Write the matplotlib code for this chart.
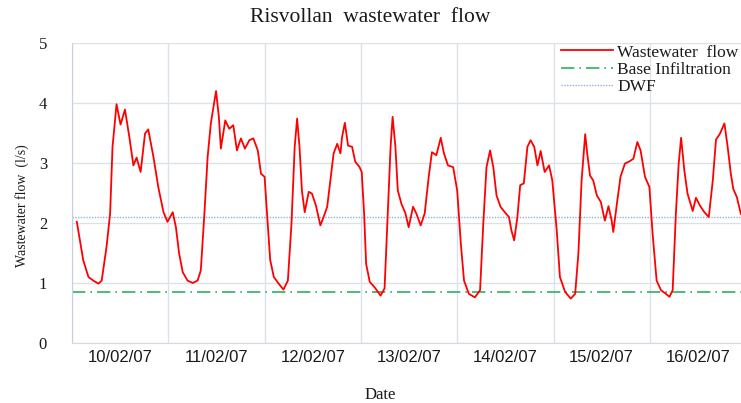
import matplotlib
matplotlib.use("Agg")
import matplotlib.pyplot as plt
from matplotlib.ticker import FixedLocator, NullFormatter, FixedFormatter

# ---- data (hours since 10/02/07 00:00, flow in l/s) ----
hours = [1.2, 2.8, 4.1, 5.3, 6.6, 7.4, 8.6, 9.5, 10.1, 11.1, 12.1, 13.2, 14.3, 15.3, 16.1, 17.1,
         18.2, 19.0, 20.3, 21.5, 22.8, 23.8,
         25.1, 25.9, 26.7, 27.6, 28.8, 30.1, 31.3, 32.1, 33.0, 33.8, 34.6, 35.9, 36.6, 37.1,
         38.2, 39.2, 40.2, 41.1, 42.1, 43.1, 44.2, 45.2, 46.3, 47.1, 48.0,
         48.6, 49.4, 50.3, 51.5, 52.7, 53.8, 54.7, 55.5, 56.1, 56.7, 57.3, 58.0, 59.0, 59.8,
         60.8, 61.9, 62.7, 63.6, 64.4, 65.2, 66.1, 66.9, 67.3, 68.0, 68.8, 69.8, 70.6, 71.6,
         72.2, 72.8, 73.3, 74.2, 75.4, 76.9, 77.9, 78.7, 79.4, 79.9, 80.6, 81.2, 82.1, 83.1,
         83.9, 85.0, 85.8, 86.9, 87.9, 88.9, 89.7, 90.8, 91.9, 92.7, 93.7, 95.0,
         96.0, 96.9, 97.7, 98.9, 100.4, 101.7, 102.5, 103.3, 104.2, 105.0, 105.8, 106.8,
         108.1, 108.9, 109.5, 110.2, 111.0, 111.7, 112.6, 113.5, 114.3, 115.2, 116.0, 116.8,
         117.8, 118.9, 119.7,
         120.8, 121.6, 122.9, 124.3, 125.4, 126.2, 127.0, 127.9, 128.4, 129.1, 129.9, 130.8,
         131.8, 132.8, 133.7, 134.5, 134.9, 135.7, 136.7, 137.8, 139.0, 139.9, 140.9, 141.7,
         142.8, 143.9,
         144.7, 145.7, 146.8, 148.0, 148.9, 149.7, 150.5, 151.2, 151.8, 152.6, 153.4, 154.7,
         155.5, 156.5, 157.6, 158.7, 159.7, 160.5, 161.5, 162.6, 163.4, 164.2, 164.8, 165.7,
         166.7]
flow = [2.02, 1.38, 1.10, 1.04, 0.99, 1.04, 1.60, 2.16, 3.27, 3.98, 3.64, 3.89, 3.43, 2.96, 3.09, 2.85,
        3.49, 3.56, 3.10, 2.60, 2.18, 2.02,
        2.18, 1.93, 1.49, 1.18, 1.04, 1.00, 1.04, 1.21, 2.16, 3.10, 3.66, 4.20, 3.77, 3.24,
        3.71, 3.57, 3.63, 3.21, 3.41, 3.24, 3.38, 3.41, 3.21, 2.82, 2.77,
        2.16, 1.38, 1.10, 0.99, 0.89, 1.04, 1.99, 3.27, 3.74, 3.27, 2.54, 2.18, 2.52, 2.49,
        2.29, 1.96, 2.10, 2.27, 2.71, 3.16, 3.32, 3.16, 3.43, 3.67, 3.29, 3.27, 3.02, 2.94,
        2.85, 2.16, 1.32, 1.02, 0.93, 0.79, 0.91, 2.16, 3.27, 3.77, 3.27, 2.54, 2.32, 2.16,
        1.93, 2.27, 2.16, 1.96, 2.16, 2.77, 3.18, 3.13, 3.42, 3.16, 2.96, 2.93,
        2.54, 1.66, 1.04, 0.82, 0.76, 0.88, 1.99, 2.93, 3.21, 2.93, 2.46, 2.27,
        2.16, 2.10, 1.88, 1.71, 2.10, 2.63, 2.66, 3.27, 3.38, 3.27, 2.96, 3.20,
        2.85, 2.96, 2.71,
        1.88, 1.10, 0.85, 0.74, 0.82, 1.49, 2.71, 3.48, 3.16, 2.79, 2.71, 2.46,
        2.35, 2.04, 2.28, 2.04, 1.85, 2.27, 2.77, 2.99, 3.03, 3.07, 3.35, 3.21,
        2.77, 2.60,
        1.82, 1.04, 0.88, 0.82, 0.77, 0.88, 2.16, 2.99, 3.42, 2.88, 2.49, 2.20,
        2.42, 2.29, 2.18, 2.10, 2.71, 3.39, 3.49, 3.66, 3.27, 2.82, 2.57, 2.43,
        2.15]
base_infiltration = 0.855
dwf = 2.10
day_labels = ["10/02/07", "11/02/07", "12/02/07", "13/02/07", "14/02/07", "15/02/07", "16/02/07"]
y_ticks = [0, 1, 2, 3, 4, 5]

serif = ["Liberation Serif", "DejaVu Serif"]
sans = ["Liberation Sans", "DejaVu Sans"]

fig = plt.figure(figsize=(7.41, 4.03), dpi=100)
ax = fig.add_axes([72 / 741, 1 - 343 / 403, 1 - 72 / 741, 300 / 403])

xmax = 24 * (741 - 72) / 96.3
ax.set_xlim(0, xmax)
ax.set_ylim(0, 5)

ax.plot(hours, flow, color="#ff0000", lw=1.3, label="Wastewater  flow", zorder=3)
ax.plot([0, xmax], [base_infiltration] * 2, color="#2fb060", lw=1.2,
        linestyle=(0, (8, 3, 1, 3)), label="Base Infiltration", zorder=2)
ax.plot([0, xmax], [dwf] * 2, color="#8fb4dc", lw=1.0, linestyle=(0, (1, 1)),
        label="DWF", zorder=2)

day_edges = [24 * i for i in range(len(day_labels))]
day_centers = [24 * i + 12 for i in range(len(day_labels))]
ax.xaxis.set_major_locator(FixedLocator(day_edges))
ax.xaxis.set_major_formatter(NullFormatter())
ax.xaxis.set_minor_locator(FixedLocator(day_centers))
ax.xaxis.set_minor_formatter(FixedFormatter(day_labels))
ax.tick_params(axis="x", which="both", length=0, pad=5)
for lab in ax.xaxis.get_minorticklabels():
    lab.set_family(sans)
    lab.set_fontsize(12)
    lab.set_color("#1a1a1a")

ax.set_yticks(y_ticks)
ax.tick_params(axis="y", length=0, pad=18)
for lab in ax.get_yticklabels():
    lab.set_family(serif)
    lab.set_fontsize(12)
    lab.set_color("#1a1a1a")

ax.grid(True, which="major", color="#dde2ea", lw=1.0, zorder=0)
ax.set_axisbelow(True)
for s in ["top", "right"]:
    ax.spines[s].set_visible(False)
ax.spines["left"].set_color("#c8d0dc")
ax.spines["bottom"].set_color("#d4dae4")

fig.text(380 / 741, 1 - 395 / 403, "Date", family=serif, fontsize=12,
         ha="center", va="center", color="#1a1a1a")
fig.text(22 / 741, 1 - 206 / 403, "Wastewater flow  (l/s)", family=serif, fontsize=10,
         rotation=90, ha="center", va="center", color="#1a1a1a")
fig.text(370 / 741, 1 - 18 / 403, "Risvollan  wastewater  flow", family=serif, fontsize=15.5,
         ha="center", va="center", color="#1a1a1a")

leg = ax.legend(loc="upper right", bbox_to_anchor=(1.012, 1.03), frameon=False,
                prop={"family": serif, "size": 12.5}, handlelength=3.0,
                handletextpad=0.25, labelspacing=0.05, borderaxespad=0.2)
for t in leg.get_texts():
    t.set_color("#1a1a1a")

fig.savefig("out.png", dpi=100)
